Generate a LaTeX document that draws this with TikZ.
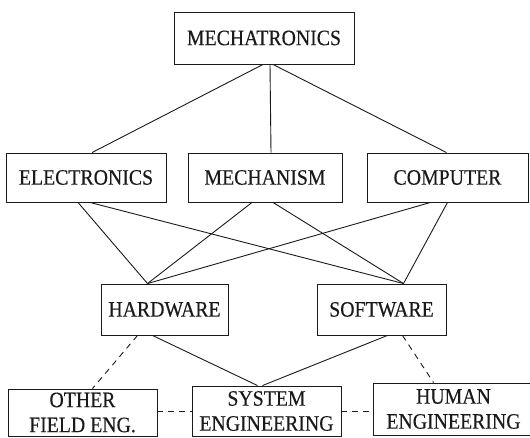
\documentclass[tikz,border=0pt]{standalone}
\usepackage{fontspec}
\setmainfont{Liberation Serif}[FakeStretch=0.9, FakeBold=0.3]
\usetikzlibrary{positioning}
\definecolor{lineink}{HTML}{1A1A1A}
\tikzset{
  box/.style={draw=lineink, line width=0.9pt, align=center, inner sep=1pt,
    font=\fontsize{22}{25}\selectfont, text=lineink},
  link/.style={draw=lineink, line width=0.9pt},
  weak/.style={link, dashed, dash pattern=on 6pt off 5pt},
}

\begin{document}
\begin{tikzpicture}[x=1pt, y=-1pt]
\useasboundingbox (0,0) rectangle (530,438);

% ---- top ---------------------------------------------------------------
\node[box, minimum width=180pt, minimum height=52pt] (mecha) at (264,38) {MECHATRONICS};

% ---- disciplines ------------------------------------------------------
\node[box, minimum width=160pt, minimum height=49pt] (elec) at (86,177.5) {ELECTRONICS};
\node[box, minimum width=154pt, minimum height=49pt] (mechan) at (265,177.5) {MECHANISM};
\node[box, minimum width=161pt, minimum height=49pt] (comp) at (447.5,177.5) {COMPUTER};

% ---- hardware / software ----------------------------------------------
\node[box, minimum width=127pt, minimum height=51pt] (hard) at (164.5,309.5) {HARDWARE};
\node[box, minimum width=129pt, minimum height=51pt] (soft) at (381.5,309.5) {SOFTWARE};

% ---- engineering row --------------------------------------------------
\node[box, minimum width=149pt, minimum height=47pt] (other) at (82.5,412.5) {OTHER\\FIELD ENG.};
\node[box, minimum width=149pt, minimum height=50pt] (syseng) at (266.5,411) {SYSTEM\\ENGINEERING};
\node[box, minimum width=161pt, minimum height=52pt] (human) at (453.5,409) {HUMAN\\ENGINEERING};

% mechatronics splits into three
\draw[link] ([xshift=-1pt]mecha.south) -- ([xshift=6pt]elec.north);
\draw[link] ([xshift=6pt]mecha.south) -- ([xshift=6pt]mechan.north);
\draw[link] ([xshift=9pt]mecha.south) -- ([xshift=-1pt]comp.north);

% every discipline feeds both sides
\draw[link] ([xshift=-8pt]elec.south) -- ([xshift=-17pt]hard.north);
\draw[link] ([xshift=4pt]elec.south) -- ([xshift=22pt]soft.north);
\draw[link] ([xshift=-13pt]mechan.south) -- ([xshift=-17pt]hard.north);
\draw[link] ([xshift=8pt]mechan.south) -- ([xshift=22pt]soft.north);
\draw[link] ([xshift=-17pt]comp.south) -- ([xshift=-17pt]hard.north);
\draw[link] ([xshift=0pt]comp.south) -- ([xshift=22pt]soft.north);

% both sides meet in system engineering
\draw[link] ([xshift=-12pt]hard.south) -- ([xshift=-9pt]syseng.north);
\draw[link] ([xshift=6pt]soft.south) -- ([xshift=-4pt]syseng.north);
\draw[weak] ([xshift=-27pt]hard.south) -- ([xshift=10pt]other.north);
\draw[weak] ([xshift=21pt]soft.south) -- ([xshift=-20pt]human.north);

% side links
\draw[weak] (other.east |- syseng.center) -- (syseng.west);
\draw[weak] (syseng.east) -- (human.west |- syseng.center);

\end{tikzpicture}
\end{document}
